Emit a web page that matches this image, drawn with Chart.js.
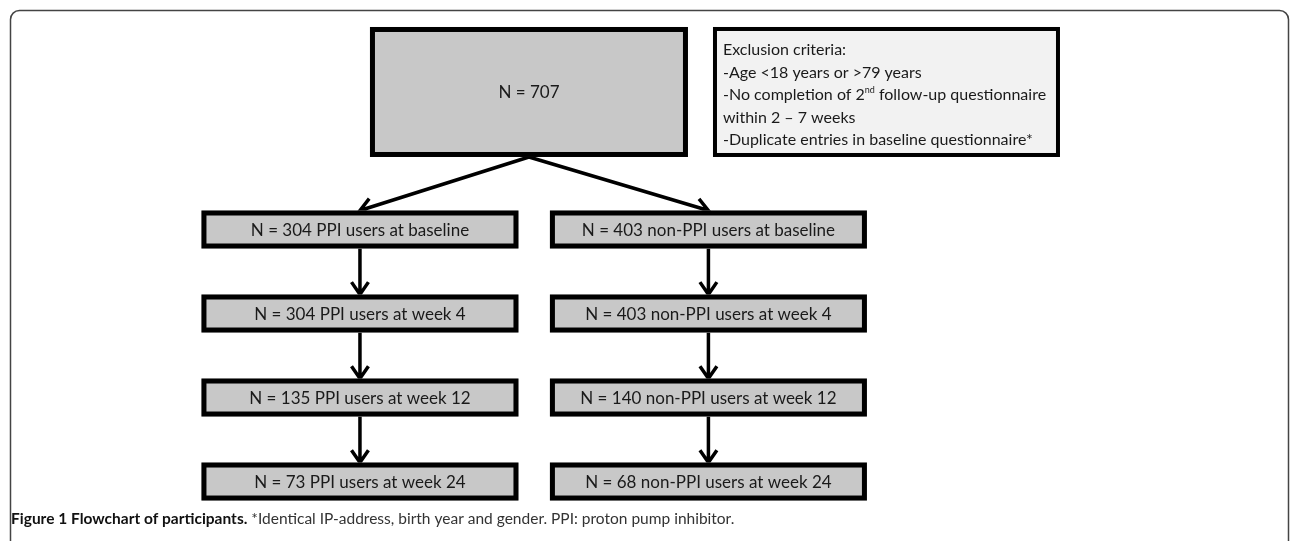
<!DOCTYPE html>
<html>
<head>
<meta charset="utf-8">
<script src="https://cdn.jsdelivr.net/npm/chart.js@4"></script>
<style>
  html, body { margin: 0; padding: 0; background: #fff; }
  #wrap { width: 1290px; height: 541px; position: relative; }
</style>
</head>
<body>
<div id="wrap"><canvas id="flowChart"></canvas></div>
<script>
// data
const totalN = 707;
const stages = ["baseline", "week 4", "week 12", "week 24"];
const ppiCounts = [304, 304, 135, 73];
const nonPpiCounts = [403, 403, 140, 68];
const groupNames = ["PPI users", "non-PPI users"];
const exclusionLines = [
    "Exclusion criteria:",
    "-Age <18 years or >79 years",
    "-No completion of 2|nd| follow-up questionnaire",
    "within 2 \u2013 7 weeks",
    "-Duplicate entries in baseline questionnaire*"
];
const captionBold = "Figure 1 Flowchart of participants.";
const captionText = " *Identical IP-address, birth year and gender. PPI: proton pump inhibitor.";

// layout (grid units: column 0 / 1, row 1..4 for the stages)
const topNodePos = { x: 0.485, y: -0.637 };
const exclusionPos = { x: 1.511, y: -0.637 };
const boxFont = "17px Lato";
const exclFont = "16px Lato";
const gray = "#c8c8c8";

function boxLabel(n, group, stage) {
    return "N = " + n + " " + group + " at " + stage;
}

// nodes go through the scales as invisible scatter points
var ppiPoints = [];
var nonPpiPoints = [];
for (var i = 0; i < stages.length; i++) {
    ppiPoints.push({ x: 0, y: i + 1, label: boxLabel(ppiCounts[i], groupNames[0], stages[i]) });
    nonPpiPoints.push({ x: 1, y: i + 1, label: boxLabel(nonPpiCounts[i], groupNames[1], stages[i]) });
}

function arrow(ctx, x1, y1, x2, y2) {
    var ang = Math.atan2(y2 - y1, x2 - x1);
    var len = 15, spread = 0.6;
    ctx.beginPath();
    ctx.moveTo(x1, y1);
    ctx.lineTo(x2, y2);
    ctx.moveTo(x2 - len * Math.cos(ang - spread), y2 - len * Math.sin(ang - spread));
    ctx.lineTo(x2, y2);
    ctx.lineTo(x2 - len * Math.cos(ang + spread), y2 - len * Math.sin(ang + spread));
    ctx.stroke();
}

function drawBox(ctx, cx, cy, w, h, lw, fill) {
    ctx.fillStyle = fill;
    ctx.fillRect(cx - w / 2, cy - h / 2, w, h);
    ctx.lineWidth = lw;
    ctx.strokeStyle = "#000";
    ctx.strokeRect(cx - w / 2 + lw / 2, cy - h / 2 + lw / 2, w - lw, h - lw);
}

const flowPlugin = {
    id: "flowBoxes",
    afterDatasetsDraw(chart) {
        const ctx = chart.ctx;
        const xs = chart.scales.x, ys = chart.scales.y;
        ctx.save();

        // figure frame
        ctx.strokeStyle = "#444";
        ctx.lineWidth = 1.5;
        ctx.beginPath();
        ctx.roundRect(10.5, 10.5, 1278, 600, 9);
        ctx.stroke();

        const topX = xs.getPixelForValue(topNodePos.x);
        const topY = ys.getPixelForValue(topNodePos.y);
        const topW = 318, topH = 130;
        const rowW = 317, rowH = 38;

        // arrows
        ctx.strokeStyle = "#000";
        ctx.lineWidth = 3.5;
        ctx.lineCap = "butt";
        ctx.lineJoin = "miter";
        const metas = [chart.getDatasetMeta(0), chart.getDatasetMeta(1)];
        metas.forEach(function (meta) {
            const pts = meta.data;
            arrow(ctx, topX, topY + topH / 2, pts[0].x, pts[0].y - rowH / 2);
            for (var k = 0; k < pts.length - 1; k++) {
                arrow(ctx, pts[k].x, pts[k].y + rowH / 2, pts[k + 1].x, pts[k + 1].y - rowH / 2);
            }
        });

        // top box
        drawBox(ctx, topX, topY, topW, topH, 5, gray);
        ctx.fillStyle = "#1a1a1a";
        ctx.font = boxFont;
        ctx.textAlign = "center";
        ctx.textBaseline = "middle";
        ctx.fillText("N = " + totalN, topX, topY + 1);

        // stage boxes
        metas.forEach(function (meta, d) {
            const raw = chart.data.datasets[d].data;
            meta.data.forEach(function (p, k) {
                drawBox(ctx, p.x, p.y, rowW, rowH, 5, gray);
                ctx.fillStyle = "#1a1a1a";
                ctx.font = boxFont;
                ctx.textAlign = "center";
                ctx.textBaseline = "middle";
                ctx.fillText(raw[k].label, p.x, p.y + 1);
            });
        });

        // exclusion box
        const exX = xs.getPixelForValue(exclusionPos.x);
        const exY = ys.getPixelForValue(exclusionPos.y);
        drawBox(ctx, exX, exY, 347, 130, 4, "#f2f2f2");
        ctx.fillStyle = "#1a1a1a";
        ctx.textAlign = "left";
        ctx.textBaseline = "middle";
        var left = exX - 347 / 2 + 10;
        exclusionLines.forEach(function (line, k) {
            var y = exY - 42 + k * 22.5;
            var parts = line.split("|");
            var x = left;
            parts.forEach(function (part, j) {
                if (j % 2 === 1) {
                    ctx.font = "9px Lato";
                    ctx.fillText(part, x, y - 5);
                } else {
                    ctx.font = exclFont;
                    ctx.fillText(part, x, y);
                }
                x += ctx.measureText(part).width;
            });
        });

        // caption
        ctx.textBaseline = "alphabetic";
        ctx.fillStyle = "#111";
        ctx.font = "bold 15.5px Lato";
        ctx.fillText(captionBold, 11, 524);
        var bw = ctx.measureText(captionBold).width;
        ctx.fillStyle = "#333";
        ctx.font = "15.5px Lato";
        ctx.fillText(captionText, 11 + bw, 524);

        ctx.restore();
    }
};

new Chart(document.getElementById("flowChart"), {
    type: "scatter",
    data: {
        datasets: [
            { label: groupNames[0], data: ppiPoints, pointRadius: 0 },
            { label: groupNames[1], data: nonPpiPoints, pointRadius: 0 }
        ]
    },
    options: {
        responsive: true,
        maintainAspectRatio: false,
        animation: false,
        events: [],
        layout: { padding: 0 },
        plugins: { legend: { display: false }, tooltip: { enabled: false } },
        scales: {
            x: { type: "linear", min: -1.033, max: 2.669, display: false },
            y: { type: "linear", reverse: true, min: -1.732, max: 4.708, display: false }
        }
    },
    plugins: [flowPlugin]
});
</script>
</body>
</html>
